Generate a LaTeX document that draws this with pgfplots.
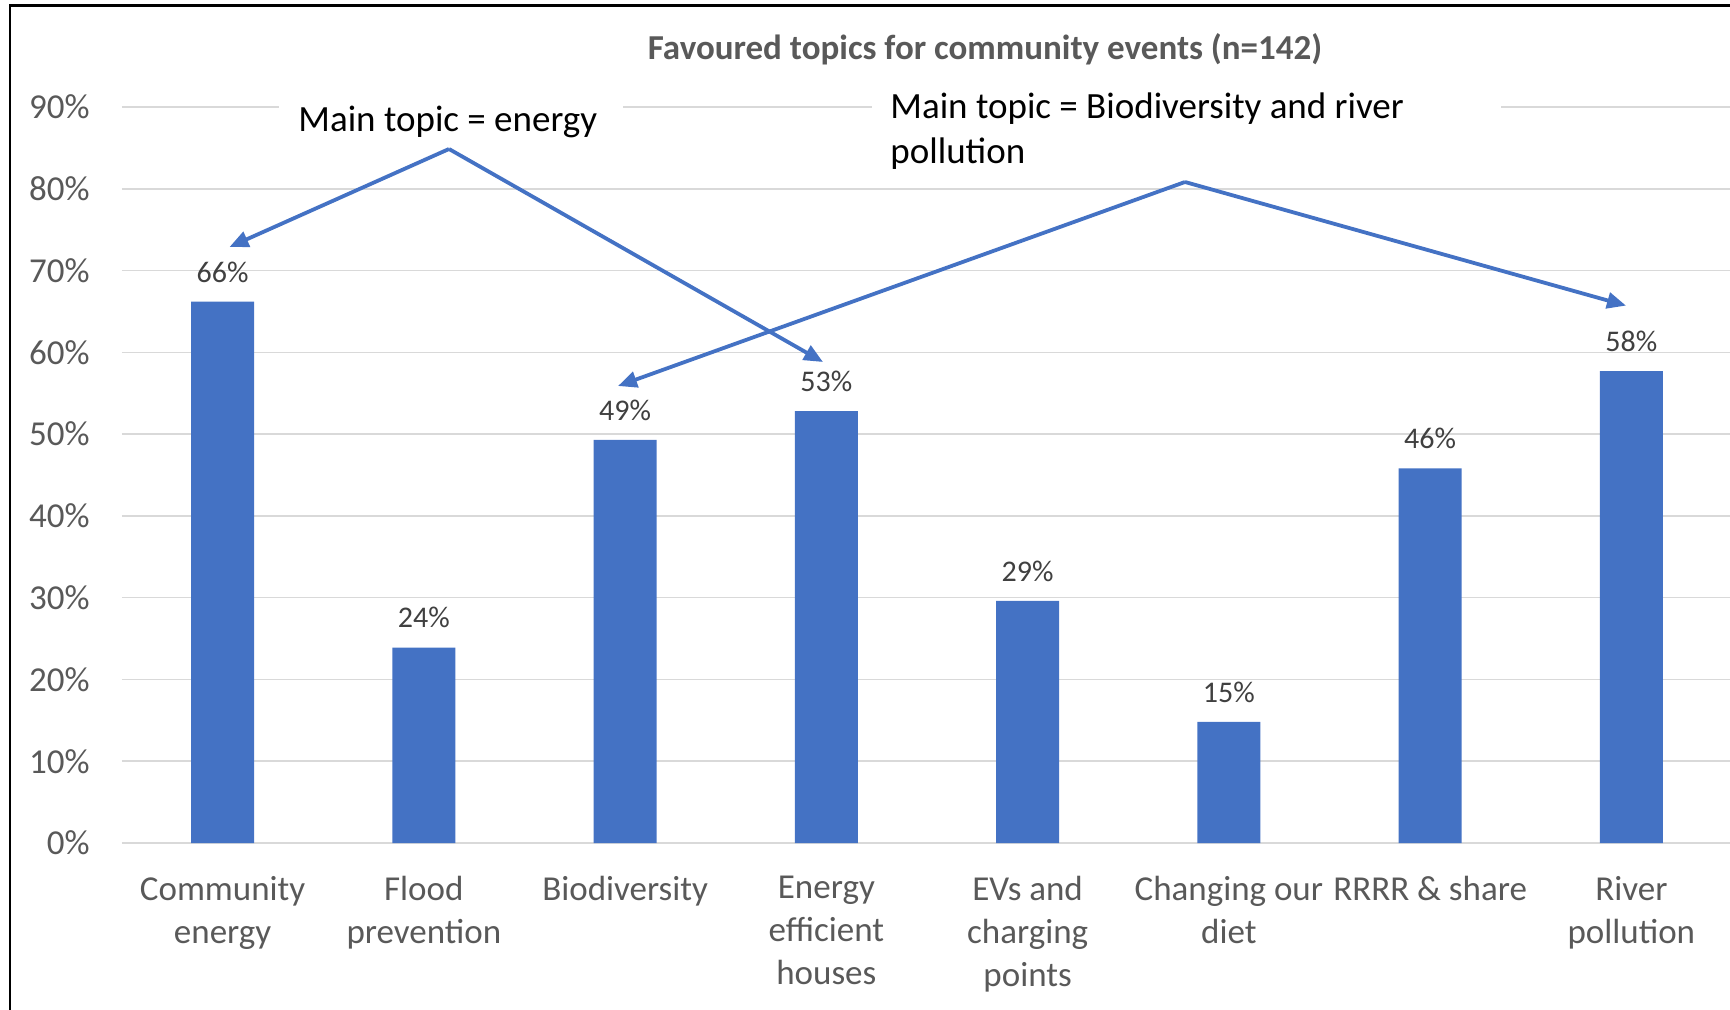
\documentclass[border=0pt]{standalone}
\usepackage{pgfplots}
\pgfplotsset{compat=1.18}
\usepackage{fontspec}
\setmainfont{Carlito}
\usetikzlibrary{arrows.meta}
\definecolor{barblue}{HTML}{4472C4}
\definecolor{gridgray}{HTML}{D9D9D9}
\definecolor{txtgray}{HTML}{595959}
\definecolor{lblgray}{HTML}{404040}
\begin{document}
\begin{tikzpicture}
\useasboundingbox (0,0) rectangle (865pt,504.5pt);
\begin{axis}[
  at={(61pt,83pt)}, anchor=south west,
  scale only axis, width=805pt, height=368pt,
  xmin=-0.5, xmax=7.5, ymin=0, ymax=90,
  enlargelimits=false, clip=false,
  axis line style={draw=none},
  major tick length=0pt,
  ymajorgrids, grid style={gridgray, line width=0.8pt},
  ytick={0,10,...,90},
  yticklabels={0\%,10\%,20\%,30\%,40\%,50\%,60\%,70\%,80\%,90\%},
  yticklabel style={font=\fontsize{17.5}{21}\selectfont, text=txtgray, inner sep=0pt, xshift=-16pt},
  xtick={0,...,7},
  xticklabels={{Community\\energy},{Flood\\prevention},{Biodiversity},{Energy\\efficient\\houses},{EVs and\\charging\\points},{Changing our\\diet},{RRRR \& share},{River\\pollution}},
  xticklabel style={font=\fontsize{17.5}{21.5}\selectfont, text=txtgray, align=center, inner sep=0pt, yshift=-16.5pt},
  /pgf/number format/assume math mode=true,
  ybar, bar width=31.5pt,
  nodes near coords,
  point meta=explicit symbolic,
  every node near coord/.append style={font=\fontsize{15}{18}\selectfont, text=lblgray, anchor=south, inner sep=0pt, yshift=9.5pt},
]
\addplot[fill=barblue, draw=none] coordinates {
  (0,66.2) [66\%]
  (1,23.9) [24\%]
  (2,49.3) [49\%]
  (3,52.8) [53\%]
  (4,29.6) [29\%]
  (5,14.8) [15\%]
  (6,45.8) [46\%]
  (7,57.7) [58\%]
};
\end{axis}
% white boxes of the text annotations
\fill[white] (139.5pt,436pt) rectangle (311.5pt,466pt);
\fill[white] (436pt,437pt) rectangle (750.5pt,468pt);
% arrows
\begin{scope}[barblue, line width=1.9pt, -{Triangle[length=9.5pt,width=8pt]}]
\draw (224.5pt,430pt) -- (114.75pt,381pt);
\draw (224.5pt,430pt) -- (411.5pt,323.5pt);
\draw (592.5pt,413.5pt) -- (309pt,311.5pt);
\draw (592.5pt,413.5pt) -- (813pt,351.7pt);
\end{scope}
\node[anchor=base west, inner sep=0pt, font=\fontsize{18.5}{22}\selectfont] at (149pt,438.5pt) {Main topic = energy};
\node[anchor=base west, inner sep=0pt, font=\fontsize{18.5}{22}\selectfont] at (445pt,445pt) {Main topic = Biodiversity and river};
\node[anchor=base west, inner sep=0pt, font=\fontsize{18.5}{22}\selectfont] at (445pt,422.5pt) {pollution};
\node[font=\fontsize{17.5}{21}\selectfont\bfseries, text=txtgray, inner sep=0pt] at (492.5pt,479.75pt) {Favoured topics for community events (n=142)};
% frame
\draw[line width=1.25pt] (5pt,-2pt) -- (5pt,501.75pt) -- (870pt,501.75pt);
\end{tikzpicture}
\end{document}
